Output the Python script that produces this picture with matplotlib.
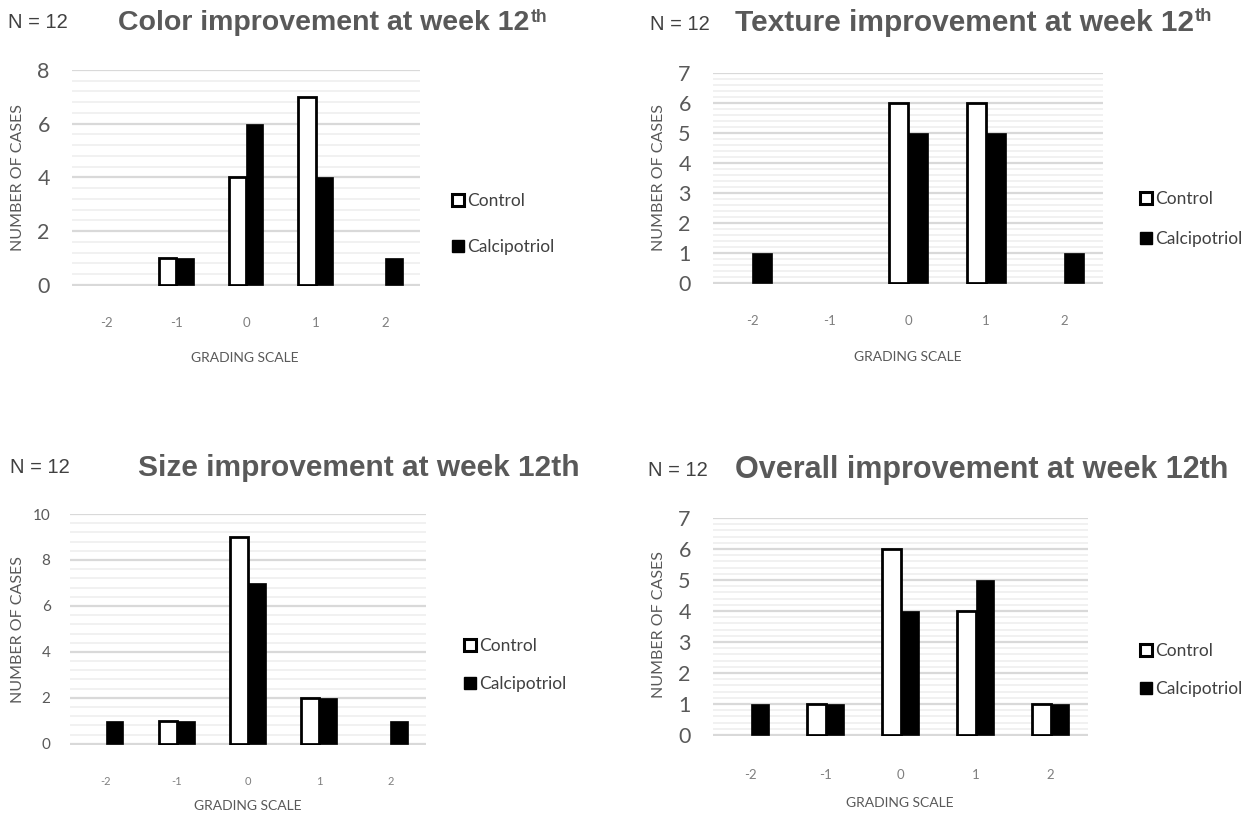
import matplotlib
matplotlib.use("Agg")
import matplotlib.pyplot as plt
from matplotlib.patches import Patch
from matplotlib.ticker import MultipleLocator
import numpy as np

# Grading scale categories
grades = [-2, -1, 0, 1, 2]
grade_labels = ["-2", "-1", "0", "1", "2"]

# Number of cases per grade
color_control = [0, 1, 4, 7, 0]
color_calcipotriol = [0, 1, 6, 4, 1]

texture_control = [0, 0, 6, 6, 0]
texture_calcipotriol = [1, 0, 5, 5, 1]

size_control = [0, 1, 9, 2, 0]
size_calcipotriol = [1, 1, 7, 2, 1]

overall_control = [0, 1, 6, 4, 1]
overall_calcipotriol = [1, 1, 4, 5, 1]

series_names = ["Control", "Calcipotriol"]
sample_label = "N = 12"

W, H = 1258, 816
fig = plt.figure(figsize=(W / 100, H / 100), dpi=100)

TITLE_C = "#595959"
LABEL_C = "#595959"
TICK_C = "#7f7f7f"
BODY_FONT = "Lato"
TITLE_FONT = "Liberation Sans"


def px_axes(left, right, top, bottom):
    return fig.add_axes([left / W, 1 - bottom / H, (right - left) / W, (bottom - top) / H])


def fx(x):
    return x / W


def fy(y):
    return 1 - y / H


panels = [
    dict(box=(72, 420, 70, 286), ymax=8, major=2, minor=0.4, ctl=color_control, cal=color_calcipotriol,
         ytick_fs=15.5, xtick_fs=9.5, ypad=16, xpad=22,
         xlab=(245, 358), ylab=(18, 178),
         title="Color improvement at week 12", sup=True, title_pos=(118, 23), n_pos=(8, 22), title_fs=20.5,
         legend=(452, 224), legend_sp=1.75),
    dict(box=(713, 1103, 73, 284), ymax=7, major=1, minor=0.2, ctl=texture_control, cal=texture_calcipotriol,
         ytick_fs=15.5, xtick_fs=9.5, ypad=16, xpad=22,
         xlab=(908, 357), ylab=(659, 178),
         title="Texture improvement at week 12", sup=True, title_pos=(735, 23), n_pos=(650, 24), title_fs=21.5,
         legend=(1140, 219), legend_sp=1.4),
    dict(box=(70, 426, 514, 745), ymax=10, major=2, minor=0.4, ctl=size_control, cal=size_calcipotriol,
         ytick_fs=11, xtick_fs=8, ypad=14, xpad=22,
         xlab=(248, 806), ylab=(18, 630),
         title="Size improvement at week 12th", sup=False, title_pos=(138, 468), n_pos=(10, 468), title_fs=21.5,
         legend=(464, 665), legend_sp=1.3),
    dict(box=(713, 1088, 518, 736), ymax=7, major=1, minor=0.2, ctl=overall_control, cal=overall_calcipotriol,
         ytick_fs=15.5, xtick_fs=9.5, ypad=16, xpad=24,
         xlab=(900, 803), ylab=(659, 625),
         title="Overall improvement at week 12th", sup=False, title_pos=(735, 470), n_pos=(648, 471), title_fs=22,
         legend=(1140, 670), legend_sp=1.3),
]

x = np.arange(len(grades))
bw = 0.25

for p in panels:
    ax = px_axes(*p["box"])
    ax.set_xlim(-0.5, len(grades) - 0.5)
    # a hair of room below zero so the baseline gridline is not clipped in half
    ax.set_ylim(-p["ymax"] * 0.005, p["ymax"])
    ax.yaxis.set_major_locator(MultipleLocator(p["major"]))
    ax.yaxis.set_minor_locator(MultipleLocator(p["minor"]))
    ax.grid(axis="y", which="minor", color="#f0f0f0", lw=1.3, zorder=0)
    ax.grid(axis="y", which="major", color="#d9d9d9", lw=1.6, zorder=0)
    ax.set_axisbelow(True)
    for s in ax.spines.values():
        s.set_visible(False)
    ax.tick_params(axis="both", which="both", length=0)
    ax.tick_params(axis="y", labelsize=p["ytick_fs"], labelcolor=LABEL_C, pad=p["ypad"])
    ax.tick_params(axis="x", labelsize=p["xtick_fs"], labelcolor=TICK_C, pad=p["xpad"])
    ax.set_xticks(x)
    ax.set_xticklabels(grade_labels)
    for lab in ax.get_xticklabels() + ax.get_yticklabels():
        lab.set_fontfamily(BODY_FONT)

    # empty categories get no outline, so nothing shows on the baseline
    ctl_edges = ["black" if v > 0 else "none" for v in p["ctl"]]
    cal_edges = ["black" if v > 0 else "none" for v in p["cal"]]
    ax.bar(x - bw / 2, p["ctl"], bw, color="white", edgecolor=ctl_edges, linewidth=2.0, zorder=3)
    ax.bar(x + bw / 2, p["cal"], bw, color="black", edgecolor=cal_edges, linewidth=0.5, zorder=3)

    fig.text(fx(p["xlab"][0]), fy(p["xlab"][1]), "GRADING SCALE", ha="center", va="center",
             fontsize=10, color=LABEL_C, family=BODY_FONT)
    fig.text(fx(p["ylab"][0]), fy(p["ylab"][1]), "NUMBER OF CASES", ha="center", va="center",
             rotation=90, fontsize=11.5, color=LABEL_C, family=BODY_FONT)

    fig.text(fx(p["n_pos"][0]), fy(p["n_pos"][1]), sample_label, ha="left", va="center",
             fontsize=14.5, color="#404040", family=TITLE_FONT)
    t = fig.text(fx(p["title_pos"][0]), fy(p["title_pos"][1]), p["title"], ha="left", va="center",
                 fontsize=p["title_fs"], fontweight="bold", color=TITLE_C, family=TITLE_FONT)
    p["title_artist"] = t

    handles = [Patch(facecolor="white", edgecolor="black", linewidth=2.2),
               Patch(facecolor="black", edgecolor="black")]
    fig.legend(handles, series_names, loc="center left",
               bbox_to_anchor=(fx(p["legend"][0]), fy(p["legend"][1])),
               frameon=False, labelcolor="#404040", prop={"family": BODY_FONT, "size": 12.5},
               handlelength=0.7, handleheight=0.7, handletextpad=0.2,
               labelspacing=p["legend_sp"], borderpad=0, borderaxespad=0)

# superscript "th" after the titles that use it
fig.canvas.draw()
renderer = fig.canvas.get_renderer()
for p in panels:
    if p["sup"]:
        bb = p["title_artist"].get_window_extent(renderer)
        fig.text(bb.x1 / W + 1 / W, (bb.y1 + 1) / H, "th", ha="left", va="top",
                 fontsize=p["title_fs"] * 0.62, fontweight="bold", color=TITLE_C, family=TITLE_FONT)

fig.savefig("out.png", dpi=100)
